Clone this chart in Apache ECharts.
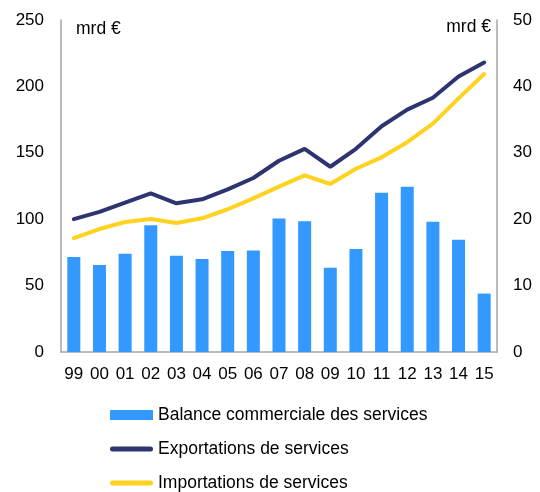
<!DOCTYPE html>
<html>
<head>
<meta charset="utf-8">
<script src="https://cdn.jsdelivr.net/npm/echarts@6/dist/echarts.min.js"></script>
<style>html,body{margin:0;padding:0;background:#fff}#c{width:540px;height:492px}</style>
</head>
<body>
<div id="c"></div>
<script>
var years = ['99','00','01','02','03','04','05','06','07','08','09','10','11','12','13','14','15'];
var balance = [14.3,13.1,14.8,19.1,14.5,14.0,15.2,15.3,20.1,19.7,12.7,15.5,24.0,24.9,19.6,16.9,8.8];
var exportsS = [100,105.5,112.5,119.5,112,115,122.5,131,144,153,139.5,153,170,182.5,191.5,207.5,218];
var importsS = [85.8,92.6,97.9,100.2,97.1,100.7,107.5,115.7,124.5,133,126.5,138,146.6,158,172,191,209.3];
var leftTicks = [0,250,50];
var rightTicks = [0,50,10];
var names = ['Balance commerciale des services','Exportations de services','Importations de services'];

var chart = echarts.init(document.getElementById('c'), null, {renderer:'canvas'});
var font = 'Liberation Sans, Arial, sans-serif';
var axisGray = '#a6a6a6';
var lineIcon = 'path://M0,0h0.01v0.01h-0.01z M2.5,2.5h38a2.5,2.5 0 0 1 0,5h-38a2.5,2.5 0 0 1 0,-5z M42.99,9.99h0.01v0.01h-0.01z';
chart.setOption({
  animation:false,
  textStyle:{fontFamily:font},
  grid:{left:61,right:43,top:20,bottom:140},
  legend:{
    orient:'vertical', left:110, top:406, padding:0, itemGap:16, itemWidth:43, itemHeight:10,
    height:90,
    textStyle:{fontSize:17.5,color:'#000',fontFamily:font},
    data:[{name:names[0],icon:'rect'},{name:names[1],icon:lineIcon},{name:names[2],icon:lineIcon}]
  },
  graphic:[
    {type:'text',left:76,top:20,style:{text:'mrd €',fontSize:17.5,fill:'#000',fontFamily:font}},
    {type:'text',right:49,top:18,style:{text:'mrd €',fontSize:17.5,fill:'#000',fontFamily:font}}
  ],
  xAxis:{
    type:'category', data:years,
    axisLine:{lineStyle:{color:axisGray,width:1.5}},
    axisTick:{show:false},
    axisLabel:{fontSize:17,color:'#000',margin:14,interval:0}
  },
  yAxis:[
    {type:'value',min:leftTicks[0],max:leftTicks[1],interval:leftTicks[2],
     axisLine:{show:true,lineStyle:{color:axisGray,width:1.5}},axisTick:{show:false},
     splitLine:{show:false},axisLabel:{fontSize:17,color:'#000',margin:17}},
    {type:'value',min:rightTicks[0],max:rightTicks[1],interval:rightTicks[2],position:'right',
     axisLine:{show:true,lineStyle:{color:axisGray,width:1.5}},axisTick:{show:false},
     splitLine:{show:false},axisLabel:{fontSize:17,color:'#000',margin:16}}
  ],
  series:[
    {name:names[0],type:'bar',yAxisIndex:1,data:balance,barWidth:13,
     itemStyle:{color:'#3399ff'}},
    {name:names[1],type:'line',yAxisIndex:0,data:exportsS,symbol:'none',
     lineStyle:{color:'#2e3470',width:4,cap:'round'},itemStyle:{color:'#2e3470'}},
    {name:names[2],type:'line',yAxisIndex:0,data:importsS,symbol:'none',
     lineStyle:{color:'#ffd21f',width:4,cap:'round'},itemStyle:{color:'#ffd21f'}}
  ]
});
</script>
</body>
</html>
